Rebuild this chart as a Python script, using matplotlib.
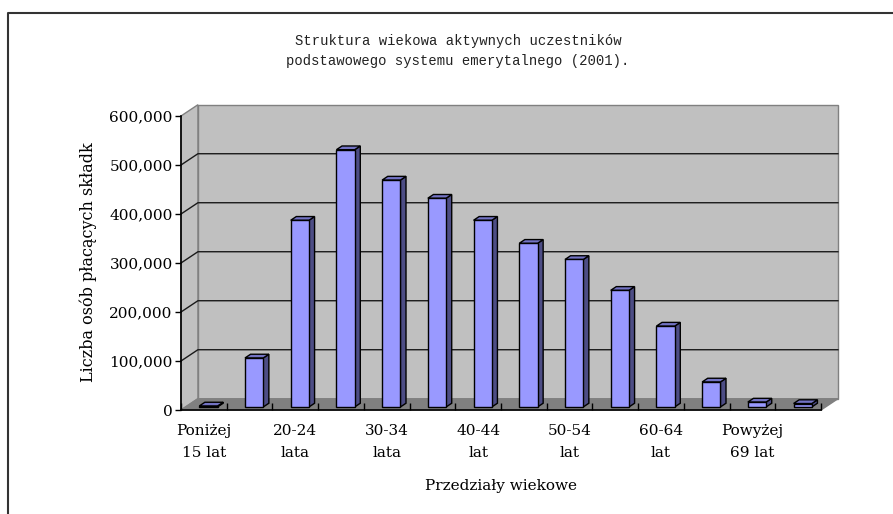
import matplotlib
matplotlib.use("Agg")
import matplotlib.pyplot as plt
from matplotlib.patches import Polygon
from matplotlib.lines import Line2D

# data
categories = ['Poniżej\n15 lat', '15-19\nlat', '20-24\nlata', '25-29\nlat',
              '30-34\nlata', '35-39\nlat', '40-44\nlat', '45-49\nlat',
              '50-54\nlat', '55-59\nlat', '60-64\nlat', '65-69\nlat',
              'Powyżej\n69 lat', 'Brak\ndanych']
values = [2000, 100000, 381000, 525000, 463000, 426000, 381000,
          334000, 301000, 238000, 165000, 51000, 10000, 7000]
y_ticks = [0, 100000, 200000, 300000, 400000, 500000, 600000]
title = 'Struktura wiekowa aktywnych uczestników\npodstawowego systemu emerytalnego (2001).'
xlabel = 'Przedziały wiekowe'
ylabel = 'Liczba osób płacących składk'

# 3d look
DX = 0.37       # depth shift in category units
DY = 23000      # depth shift in value units
BAR_W = 0.4
F0, F1 = 0.27, 0.6   # bar front/back depth fraction

W, H = 893, 514
fig = plt.figure(figsize=(W / 100, H / 100), dpi=100)
ax = fig.add_axes([181 / W, 1 - 410 / H, 640 / W, 294 / H])
ax.patch.set_visible(False)
n = len(values)
ymax = y_ticks[-1]
ax.set_xlim(0, n)
ax.set_ylim(0, ymax)


def pt(x, y, f):
    return (x + f * DX, y + f * DY)


def poly(points, fc, ec, lw=1.0, z=1):
    ax.add_patch(Polygon(points, closed=True, facecolor=fc, edgecolor=ec,
                         linewidth=lw, clip_on=False, zorder=z))


# walls and floor
poly([pt(0, 0, 1), pt(n, 0, 1), pt(n, ymax, 1), pt(0, ymax, 1)], '#C0C0C0', '#808080', 1, 0)
poly([pt(0, 0, 0), pt(0, 0, 1), pt(0, ymax, 1), pt(0, ymax, 0)], '#C0C0C0', '#808080', 1, 0)
poly([pt(0, 0, 0), pt(n, 0, 0), pt(n, 0, 1), pt(0, 0, 1)], '#808080', '#808080', 1, 0.5)

for v in y_ticks[1:-1]:
    ax.plot([0, DX, n + DX], [v, v + DY, v + DY], color='#1a1a1a', lw=1,
            clip_on=False, zorder=0.6)

# bars
for i, v in enumerate(values):
    xl = i + 0.5 - BAR_W / 2
    xr = i + 0.5 + BAR_W / 2
    poly([pt(xr, 0, F0), pt(xr, 0, F1), pt(xr, v, F1), pt(xr, v, F0)], '#4D4D85', 'black', 1, 2)
    poly([pt(xl, v, F0), pt(xr, v, F0), pt(xr, v, F1), pt(xl, v, F1)], '#7373C4', 'black', 1, 2)
    poly([pt(xl, 0, F0), pt(xr, 0, F0), pt(xr, v, F0), pt(xl, v, F0)], '#9999FF', 'black', 1, 3)

# axes
for s in ['top', 'right']:
    ax.spines[s].set_visible(False)
for s in ['left', 'bottom']:
    ax.spines[s].set_color('black')
    ax.spines[s].set_linewidth(1.2)
    ax.spines[s].set_zorder(5)

ax.set_yticks(y_ticks)
ax.set_yticklabels([f'{v:,}' for v in y_ticks])
ax.tick_params(axis='y', direction='out', length=4, width=1, pad=2,
               labelsize=11, colors='black')

ax.set_xticks(range(n + 1), minor=True)
ax.set_xticks([i + 0.5 for i in range(0, n, 2)])
ax.set_xticklabels(categories[::2], linespacing=1.75)
ax.tick_params(axis='x', which='minor', direction='in', length=5, width=1)
ax.tick_params(axis='x', which='major', length=0, pad=10, labelsize=11)

for lab in ax.get_xticklabels() + ax.get_yticklabels():
    lab.set_family('DejaVu Serif')

fig.text(458 / W, 1 - 51 / H, title, ha='center', va='center', family='Liberation Mono',
         fontsize=10, color='#222222', linespacing=1.6)
fig.text(88 / W, 1 - 262 / H, ylabel, rotation=90, ha='center', va='center',
         family='DejaVu Serif', fontsize=11.5)
fig.text(501 / W, 1 - 486 / H, xlabel, ha='center', va='center',
         family='DejaVu Serif', fontsize=11)

# chart area border (only top and left visible)
fig.add_artist(Line2D([8 / W, 8 / W, 1], [0, 1 - 13 / H, 1 - 13 / H],
                      color='#333333', lw=1.5, transform=fig.transFigure))

fig.savefig('out.png', dpi=100)
